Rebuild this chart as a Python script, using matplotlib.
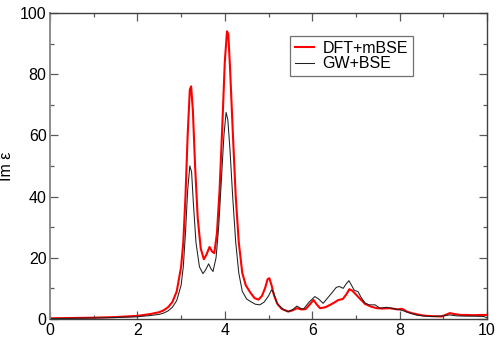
import matplotlib
matplotlib.use("Agg")
import matplotlib.pyplot as plt
from matplotlib.ticker import MultipleLocator

plt.rcParams['font.family'] = ['Liberation Sans', 'DejaVu Sans']

energy_dft = [0, 0.5, 1.0, 1.5, 2.0, 2.3, 2.5, 2.6, 2.7, 2.8, 2.9, 3.0, 3.05, 3.1, 3.15, 3.2, 3.23, 3.27,
              3.32, 3.38, 3.45, 3.52, 3.58, 3.65, 3.71, 3.76, 3.82, 3.88, 3.94, 4.0, 4.05, 4.08, 4.12,
              4.18, 4.25, 4.32, 4.4, 4.48, 4.58, 4.68, 4.77, 4.85, 4.92, 4.98, 5.02, 5.07, 5.12, 5.2,
              5.3, 5.45, 5.55, 5.65, 5.75, 5.85, 5.95, 6.03, 6.1, 6.18, 6.3, 6.41, 6.5, 6.6, 6.7, 6.78,
              6.85, 6.92, 7.0, 7.1, 7.21, 7.35, 7.48, 7.6, 7.78, 7.95, 8.05, 8.1, 8.16, 8.3, 8.54, 8.75,
              8.96, 9.1, 9.15, 9.25, 9.4, 9.54, 9.7, 9.85, 10.0]
im_dft = [0.2, 0.3, 0.4, 0.6, 1.0, 1.6, 2.2, 2.8, 3.8, 5.5, 9, 17, 25, 40, 60, 75, 76, 68,
          50, 33, 23, 19.5, 21, 23.5, 22, 21.5, 28, 42, 62, 84, 94, 93, 82,
          62, 40, 25, 15, 11, 8.7, 6.8, 6.3, 7.5, 10, 13, 13.3, 11, 8, 5,
          3.3, 2.4, 2.8, 3.5, 3.1, 3.2, 4.8, 6.2, 4.8, 3.5, 3.8, 4.6, 5.3, 6.2, 6.5, 8,
          9.7, 9.2, 8, 6.5, 4.9, 4, 3.5, 3.4, 3.5, 3.1, 3.3, 3.0, 2.4, 1.8, 1.1, 0.9,
          0.8, 1.6, 1.9, 1.6, 1.3, 1.3, 1.2, 1.3, 1.3]

energy_gw = [0, 0.5, 1.0, 1.5, 2.0, 2.3, 2.5, 2.6, 2.7, 2.8, 2.9, 3.0, 3.05, 3.1, 3.15, 3.2, 3.24, 3.28,
             3.34, 3.42, 3.5, 3.56, 3.63, 3.68, 3.73, 3.8, 3.86, 3.92, 3.98, 4.03, 4.07, 4.12, 4.18,
             4.25, 4.32, 4.4, 4.5, 4.6, 4.7, 4.8, 4.9, 5.0, 5.07, 5.12, 5.17, 5.22, 5.35, 5.45, 5.55,
             5.65, 5.73, 5.8, 5.93, 6.06, 6.15, 6.25, 6.35, 6.45, 6.55, 6.62, 6.71, 6.78, 6.84, 6.9,
             6.96, 7.05, 7.12, 7.21, 7.3, 7.44, 7.55, 7.7, 7.85, 8.0, 8.12, 8.24, 8.4, 8.6, 8.77, 9.0,
             9.15, 9.3, 9.5, 9.7, 9.92, 10.0]
im_gw = [0.1, 0.2, 0.3, 0.45, 0.7, 1.1, 1.5, 1.9, 2.6, 3.8, 6, 11, 17, 28, 42, 50, 48, 38,
         25, 17, 14.8, 16, 18, 16.5, 15.5, 20, 30, 45, 60, 67.5, 65, 55, 40,
         25, 15, 9, 6.5, 5.6, 4.8, 4.6, 5.5, 7.5, 9.5, 8.5, 6, 4.6, 3, 2.4, 3,
         4.2, 3.5, 3.2, 5.5, 7.3, 6.5, 5.1, 6.8, 8.5, 10.3, 10.6, 10, 11.5, 12.5, 11,
         9.4, 8.9, 7, 5.2, 4.6, 4.6, 3.5, 3.8, 3.4, 3.0, 2.5, 1.9, 1.2, 0.9, 0.8, 1.0,
         1.3, 1.0, 0.9, 0.9, 0.8, 0.4]

fig = plt.figure(figsize=(5.0, 3.4), dpi=100)
ax = fig.add_axes([0.1, 0.062, 0.874, 0.9])

ax.plot(energy_dft, im_dft, color='#ff0000', lw=1.5, label='DFT+mBSE')
ax.plot(energy_gw, im_gw, color='#202020', lw=0.75, label='GW+BSE')

ax.set_xlim(0, 10)
ax.set_ylim(0, 100)
ax.xaxis.set_major_locator(MultipleLocator(2))
ax.xaxis.set_minor_locator(MultipleLocator(1))
ax.yaxis.set_major_locator(MultipleLocator(20))
ax.yaxis.set_minor_locator(MultipleLocator(10))
ax.tick_params(which='both', direction='in', top=True, right=True, labelsize=11.5, color='0.35')
ax.tick_params(which='major', length=6, width=0.9)
ax.tick_params(which='minor', length=3.2, width=0.9)
ax.tick_params(axis='x', pad=3)
ax.tick_params(axis='y', pad=2.5)
for s in ax.spines.values():
    s.set_linewidth(1.0)
    s.set_color('0.25')
ax.spines['left'].set_color('0.55')
ax.spines['left'].set_linewidth(1.4)

ax.set_ylabel('Im ε', fontsize=11.5)
ax.yaxis.set_label_coords(-0.082, 0.5)

leg = ax.legend(loc='upper left', bbox_to_anchor=(0.549, 0.925), fontsize=11.5, frameon=True,
                fancybox=False, edgecolor='0.3', handlelength=1.2, borderpad=0.3,
                labelspacing=0.05, handletextpad=0.55, borderaxespad=0)
leg.get_frame().set_linewidth(0.9)

fig.savefig('out.png', dpi=100)
